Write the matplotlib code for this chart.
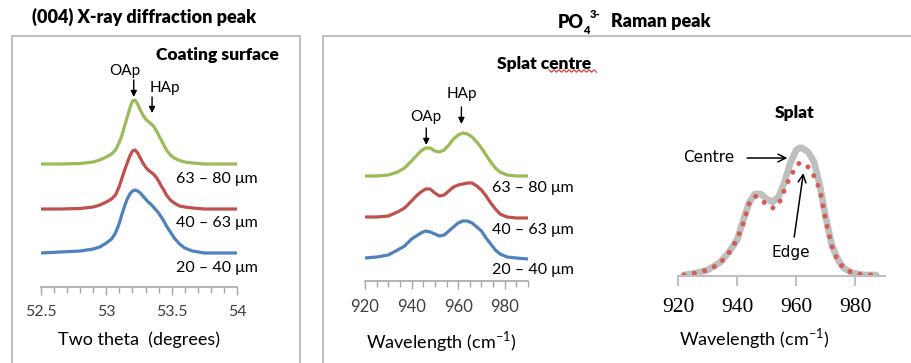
import numpy as np
import matplotlib
matplotlib.use("Agg")
import matplotlib.pyplot as plt
from matplotlib.patches import Rectangle
from matplotlib.ticker import MultipleLocator

plt.rcParams['font.family'] = ['Lato', 'DejaVu Sans']
plt.rcParams['mathtext.fontset'] = 'custom'
plt.rcParams['mathtext.rm'] = 'Lato'

# ---- XRD (004) peak, two theta (deg) vs stacked intensity
xrd_theta = [52.50, 52.65, 52.80, 52.90, 52.95, 53.00, 53.04, 53.07, 53.10, 53.12,
             53.14, 53.16, 53.18, 53.20, 53.22, 53.24, 53.26, 53.28, 53.30, 53.32,
             53.34, 53.36, 53.38, 53.40, 53.42, 53.44, 53.46, 53.49, 53.52, 53.56,
             53.60, 53.66, 53.75, 53.87, 54.00]
xrd_63_80 = [123, 123, 123.5, 125, 127, 130, 133, 137, 145, 152,
             161, 170, 179, 186, 187, 183, 177, 172, 168, 165.5,
             163.5, 161, 157, 152, 147, 142, 137, 132, 129, 126.5,
             125, 124, 123, 123, 123]
xrd_40_63 = [78, 78, 78.5, 80, 82, 85, 88, 92, 101, 109,
             117, 124, 131, 136, 137, 134, 129, 124, 120, 117,
             115, 113, 110, 106, 101, 97, 92, 87, 84, 81,
             80, 79, 78, 78, 78]
xrd_20_40 = [34, 35, 36, 38, 40, 44, 48, 54, 64, 73,
             81, 88, 93, 96, 97, 96, 94, 91, 88, 85,
             83, 80, 77, 74, 70, 66, 61, 55, 49, 43,
             39, 36, 34, 34, 34]

# ---- Raman PO4 peak at splat centre, stacked
raman_wn = [920, 925, 930, 934, 937, 940, 942, 944, 946, 948, 950, 952, 954, 956,
            958, 960, 962, 964, 966, 968, 970, 972, 974, 976, 978, 981, 985, 990]
raman_63_80 = [105, 105, 106, 109, 113, 120, 125, 130, 133, 133, 130, 129, 131, 136,
               142, 146, 148, 147, 144, 139, 133, 126, 119, 113, 109, 106, 105, 105]
raman_40_63 = [64, 64, 65, 69, 73, 80, 85, 89, 92, 92, 88, 85, 86, 90,
               94, 96, 97, 98, 98, 95, 91, 85, 78, 72, 67, 64, 63, 63]
raman_20_40 = [23, 24, 26, 31, 35, 42, 45, 48, 50, 49, 47, 45, 46, 50,
               54, 58, 60, 60, 58, 54, 50, 43, 37, 31, 27, 24, 23, 22]

# ---- Raman, splat centre vs edge
splat_wn = [922, 926, 930, 934, 937, 940, 942, 944, 946, 948, 950, 952, 954, 956,
            958, 960, 961, 962, 964, 966, 968, 970, 972, 974, 976, 979, 983, 987]
splat_centre = [1, 3, 6, 13, 23, 36, 55, 73, 82, 82, 77, 74, 79, 94,
                113, 126, 128, 128, 124, 114, 90, 58, 31, 17, 8, 3, 1, 1]
splat_edge = [1, 3, 6, 12, 22, 37, 52, 72, 80, 77, 71, 68, 71, 86,
              100, 109, 113, 113, 109, 100, 86, 55, 30, 15, 8, 3, 1, 1]

size_labels = ['63 – 80 μm', '40 – 63 μm', '20 – 40 μm']
colors = ['#9BBB59', '#C0504D', '#4F81BD']

W, H = 911, 363
fig = plt.figure(figsize=(W / 100, H / 100), dpi=100)


def P(x, y):
    """pixel -> figure fraction"""
    return x / W, 1 - y / H


def axes_px(x0, x1, y_top, y_bot):
    return fig.add_axes([x0 / W, 1 - y_bot / H, (x1 - x0) / W, (y_bot - y_top) / H])


def style_axis(ax, tick_color='#A6A6A6'):
    for s in ['left', 'right', 'top']:
        ax.spines[s].set_visible(False)
    ax.spines['bottom'].set_color(tick_color)
    ax.spines['bottom'].set_linewidth(1.2)
    ax.set_yticks([])
    ax.patch.set_alpha(0)
    ax.tick_params(axis='x', which='both', direction='out', color=tick_color, width=1)


# boxes around the two groups
box = dict(fill=False, edgecolor='#BFBFBF', lw=1.5, transform=fig.transFigure, clip_on=False)
fig.patches.append(Rectangle(P(12, 380), (300 - 12) / W, (380 - 36) / H, **box))
fig.patches.append(Rectangle(P(323, 380), (930 - 323) / W, (380 - 36) / H, **box))

BOLD = 'heavy'

# ---------- panel 1: XRD
ax1 = axes_px(41, 237, 40, 287)
for ys, c in zip([xrd_63_80, xrd_40_63, xrd_20_40], colors):
    ax1.plot(xrd_theta, ys, color=c, lw=2.3, solid_joinstyle='round')
ax1.set_xlim(52.5, 54)
ax1.set_ylim(0, 247)
style_axis(ax1)
ax1.set_xticks([52.5, 53, 53.5, 54])
ax1.set_xticklabels(['52.5', '53', '53.5', '54'])
ax1.xaxis.set_minor_locator(MultipleLocator(0.1))
ax1.tick_params(axis='x', which='major', length=6, labelsize=11.5, pad=7, labelcolor='#404040')
ax1.tick_params(axis='x', which='minor', length=4)

arrow = dict(arrowstyle='-|>', color='black', lw=1, mutation_scale=9, shrinkA=0, shrinkB=0)
ax1.annotate('', xy=(53.21, 190), xytext=(53.21, 207), arrowprops=arrow)
ax1.annotate('', xy=(53.35, 174), xytext=(53.35, 190), arrowprops=arrow)
ax1.text(53.14, 216, 'OAp', ha='center', va='center', fontsize=11)
ax1.text(53.45, 199, 'HAp', ha='center', va='center', fontsize=11)

for lab, y in zip(size_labels, [179, 223, 268]):
    fig.text(*P(176, y), lab, ha='left', va='center', fontsize=11.5)

fig.text(*P(144, 17), '(004) X-ray diffraction peak', ha='center', va='center',
         fontsize=13, fontweight=BOLD)
fig.text(*P(217, 55), 'Coating surface', ha='center', va='center',
         fontsize=12.5, fontweight=BOLD)
fig.text(*P(139, 340), 'Two theta  (degrees)', ha='center', va='center', fontsize=13)

# ---------- panel 2: Raman stacked
ax2 = axes_px(365, 528, 40, 281)
for ys, c in zip([raman_63_80, raman_40_63, raman_20_40], colors):
    ax2.plot(raman_wn, ys, color=c, lw=2.3, solid_joinstyle='round')
ax2.set_xlim(920, 990)
ax2.set_ylim(0, 241)
style_axis(ax2)
ax2.set_xticks([920, 940, 960, 980])
ax2.xaxis.set_minor_locator(MultipleLocator(5))
ax2.tick_params(axis='x', which='major', length=6, labelsize=12, pad=7, labelcolor='#404040')
ax2.tick_params(axis='x', which='minor', length=4)

ax2.annotate('', xy=(946.3, 136), xytext=(946.3, 153), arrowprops=arrow)
ax2.annotate('', xy=(961.4, 157), xytext=(961.4, 174), arrowprops=arrow)
ax2.text(946.3, 164, 'OAp', ha='center', va='center', fontsize=11)
ax2.text(961.4, 187, 'HAp', ha='center', va='center', fontsize=11)

for lab, y in zip(size_labels, [188, 230, 270]):
    fig.text(*P(492, y), lab, ha='left', va='center', fontsize=11.5)

fig.text(*P(544, 64), 'Splat centre', ha='center', va='center',
         fontsize=12.5, fontweight=BOLD)
# spell-check squiggle under "centre"
sq_x = np.arange(549, 598, 2.5)
sq_y = 71 + np.where(np.arange(len(sq_x)) % 2 == 0, -1.2, 1.2)
fig.add_artist(plt.Line2D(sq_x / W, 1 - sq_y / H, color='#E0403A', lw=0.9,
                          transform=fig.transFigure))
fig.text(*P(441, 342), 'Wavelength (cm$^{\\mathregular{-1}}$)', ha='center', va='center',
         fontsize=13)

# title "PO4 3-  Raman peak"
fig.text(*P(558, 22), 'PO', ha='left', va='center', fontsize=13, fontweight=BOLD)
fig.text(*P(583, 31), '4', ha='left', va='center', fontsize=8, fontweight=BOLD)
fig.text(*P(590, 14), '3-', ha='left', va='center', fontsize=8, fontweight=BOLD)
fig.text(*P(611, 22), 'Raman peak', ha='left', va='center', fontsize=13, fontweight=BOLD)

# ---------- panel 3: splat centre vs edge
ax3 = axes_px(678, 885, 40, 276)
ax3.plot(splat_wn, splat_centre, color='#BFBFBF', lw=4.8, solid_capstyle='round',
         solid_joinstyle='round')
ax3.plot(splat_wn, splat_edge, color='#D65B55', lw=3.6, linestyle=(0, (0.01, 2.1)),
         dash_capstyle='round')
ax3.set_xlim(920, 990)
ax3.set_ylim(0, 236)
style_axis(ax3, tick_color='#BFBFBF')
ax3.spines['bottom'].set_linewidth(1.5)
ax3.set_xticks([920, 940, 960, 980])
ax3.tick_params(axis='x', which='major', length=7, width=1.5, pad=9)
for t in ax3.get_xticklabels():
    t.set_fontfamily('Liberation Serif')
    t.set_fontsize(15.5)

ax3.text(959.3, 163, 'Splat', ha='center', va='center', fontsize=12.5, fontweight=BOLD)
ax3.text(930.5, 119, 'Centre', ha='center', va='center', fontsize=11, family='DejaVu Sans')
ax3.text(958.0, 23, 'Edge', ha='center', va='center', fontsize=11, family='DejaVu Sans')
open_arrow = dict(arrowstyle='->', color='black', lw=1.1, mutation_scale=14, shrinkA=0, shrinkB=0)
ax3.annotate('', xy=(957.0, 118), xytext=(943.4, 118), arrowprops=open_arrow)
ax3.annotate('', xy=(962.4, 103), xytext=(959.3, 39), arrowprops=open_arrow)
fig.text(*P(754, 339), 'Wavelength (cm$^{\\mathregular{-1}}$)', ha='center', va='center',
         fontsize=13)

fig.savefig('out.png', dpi=100)
